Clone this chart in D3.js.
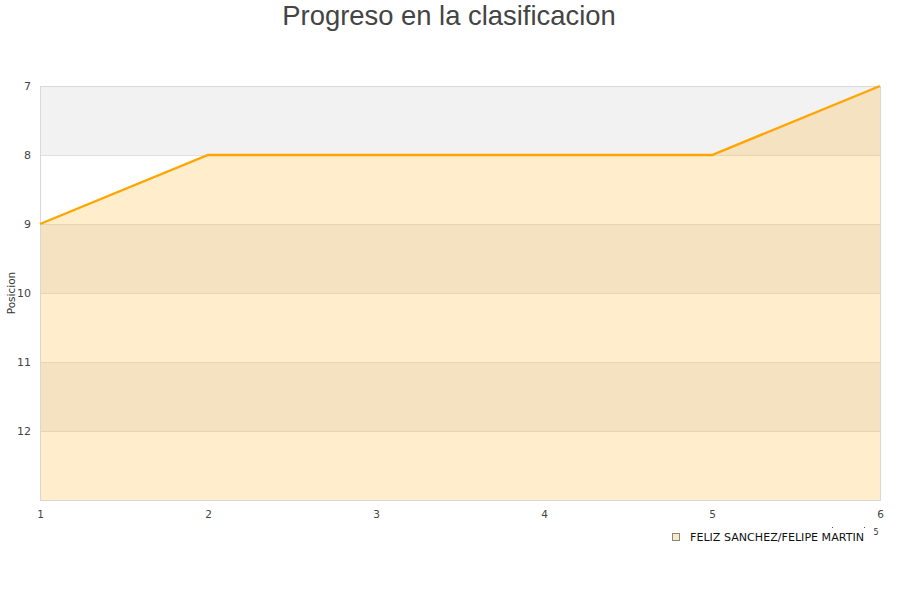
<!DOCTYPE html>
<html><head><meta charset="utf-8">
<script src="https://cdn.jsdelivr.net/npm/d3@7"></script>
<style>body{margin:0;background:#fff}svg{display:block}</style>
</head><body>
<svg id="c" width="900" height="600"></svg>
<script>
const jornadas = [1, 2, 3, 4, 5, 6];
const posiciones = [9, 8, 8, 8, 8, 7];
const yTicks = [7, 8, 9, 10, 11, 12];
const seriesName = "FELIZ SANCHEZ/FELIPE MARTIN";
const title = "Progreso en la clasificacion";
const yLabel = "Posicion";

const svg = d3.select("#c");
const m = {l: 40, r: 880, t: 86, b: 500};
const x = d3.scaleLinear().domain([1, 6]).range([m.l, m.r]);
const y = d3.scaleLinear().domain([7, 13]).range([m.t, m.b]);

// bands
const bands = d3.range(7, 13);
svg.append("g").selectAll("rect").data(bands).join("rect")
  .attr("x", m.l).attr("width", m.r - m.l)
  .attr("y", d => y(d)).attr("height", d => y(d + 1) - y(d))
  .attr("fill", (d, i) => i % 2 === 0 ? "#f2f2f2" : "#ffffff");

// grid
svg.append("g").selectAll("line").data(d3.range(8, 13)).join("line")
  .attr("x1", m.l).attr("x2", m.r)
  .attr("y1", d => y(d) + 0.5).attr("y2", d => y(d) + 0.5)
  .attr("stroke", "#e0e0e0").attr("stroke-width", 1);

const data = jornadas.map((j, i) => ({j, p: posiciones[i]}));

// area
svg.append("path").datum(data)
  .attr("d", d3.area().x(d => x(d.j)).y0(y(13)).y1(d => y(d.p)))
  .attr("fill", "orange").attr("fill-opacity", 0.2);

// frame
svg.append("rect").attr("x", m.l + 0.5).attr("y", m.t + 0.5)
  .attr("width", m.r - m.l).attr("height", m.b - m.t)
  .attr("fill", "none").attr("stroke", "#d8d8d8");

// line
svg.append("path").datum(data)
  .attr("d", d3.line().x(d => x(d.j)).y(d => y(d.p)))
  .attr("fill", "none").attr("stroke", "#ffa500").attr("stroke-width", 2.4);

// y axis
const ya = svg.append("g").attr("transform", `translate(${m.l - 9},0)`)
  .call(d3.axisLeft(y).tickValues(yTicks).tickFormat(d3.format("d")).tickSize(0).tickPadding(0));
ya.select(".domain").remove();
ya.selectAll("text").attr("font-family", "DejaVu Sans").attr("font-size", 11).attr("fill", "#444");

// x axis
const xa = svg.append("g").attr("transform", `translate(0,${m.b + 11})`)
  .call(d3.axisBottom(x).tickValues(jornadas).tickFormat(d3.format("d")).tickSize(0).tickPadding(0));
xa.select(".domain").remove();
xa.selectAll("text").attr("font-family", "DejaVu Sans").attr("font-size", 10.5).attr("fill", "#444");

// title
svg.append("text").attr("x", 449).attr("y", 25).attr("text-anchor", "middle")
  .attr("font-family", "Liberation Sans, Arial, sans-serif").attr("font-size", 27.4).attr("fill", "#444")
  .text(title);

// y label
svg.append("text").attr("transform", "translate(15,293) rotate(-90)").attr("text-anchor", "middle")
  .attr("font-family", "DejaVu Sans").attr("font-size", 10.5).attr("fill", "#333").text(yLabel);

// legend
svg.append("rect").attr("x", 672.5).attr("y", 533.5).attr("width", 7).attr("height", 7)
  .attr("fill", "#fde8c4").attr("stroke", "#888");
svg.append("text").attr("x", 690).attr("y", 541)
  .attr("font-family", "DejaVu Sans").attr("font-size", 11.1).attr("fill", "#111").text(seriesName);
svg.append("text").attr("x", 876).attr("y", 535).attr("text-anchor", "middle")
  .attr("font-family", "DejaVu Sans").attr("font-size", 8).attr("fill", "#333").text("5");
svg.append("g").selectAll("rect").data([832, 864]).join("rect")
  .attr("x", d => d).attr("y", 527).attr("width", 1).attr("height", 1).attr("fill", "#555");
</script>
</body></html>
